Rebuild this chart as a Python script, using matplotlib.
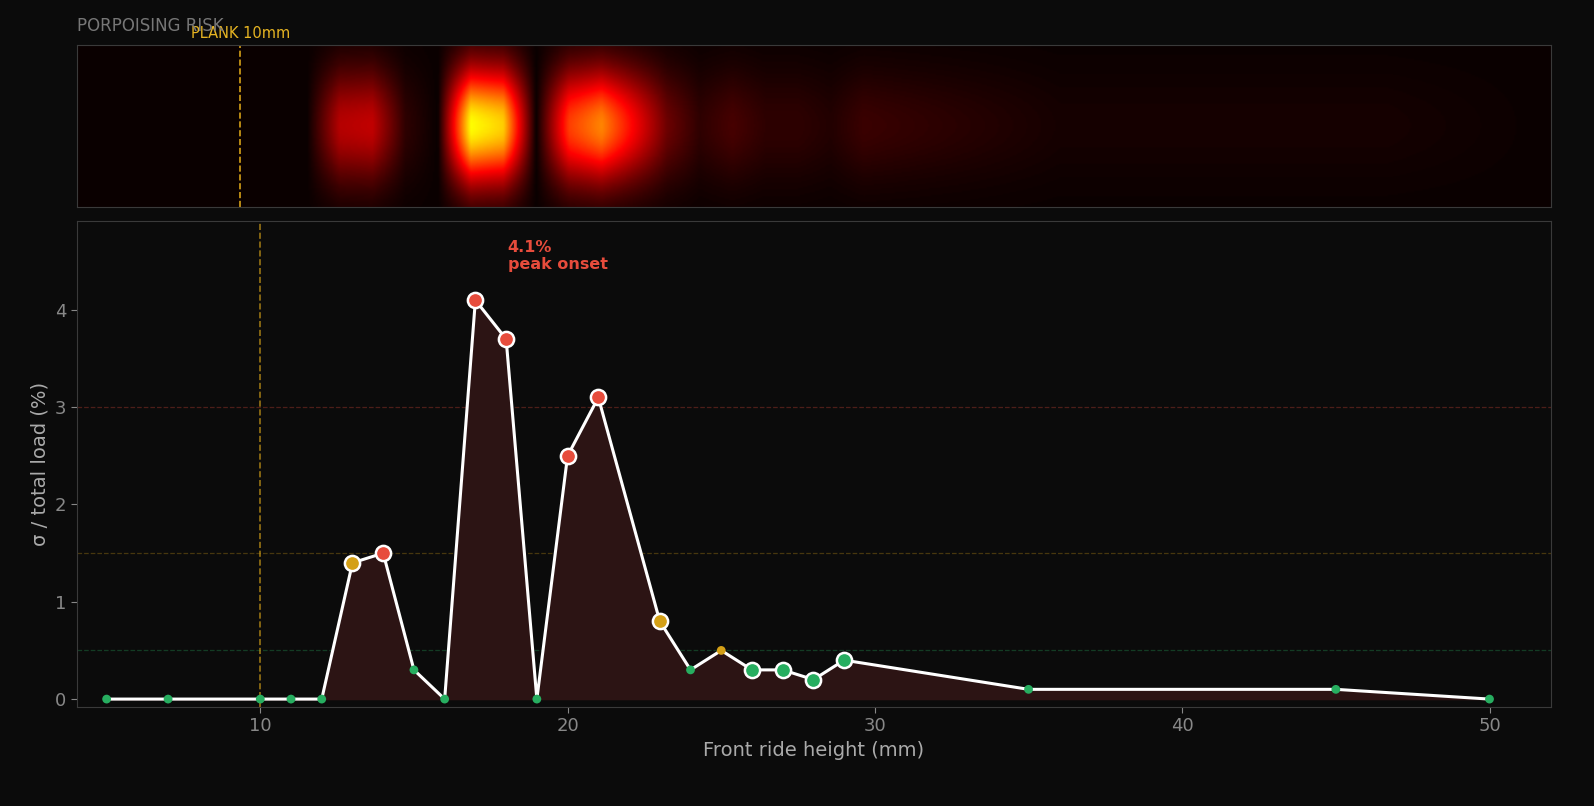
import numpy as np
import matplotlib
matplotlib.use("Agg")
import matplotlib.pyplot as plt

heights = [5, 7, 10, 11, 12, 13, 14, 15, 16, 17, 18, 19, 20, 21, 23, 24, 25, 26, 27, 28, 29, 35, 45, 50]
sigma = [0, 0, 0, 0, 0, 1.4, 1.5, 0.3, 0, 4.1, 3.7, 0, 2.5, 3.1, 0.8, 0.3, 0.5, 0.3, 0.3, 0.2, 0.4, 0.1, 0.1, 0]
big = [0, 0, 0, 0, 0, 1, 1, 0, 0, 1, 1, 0, 1, 1, 1, 0, 0, 1, 1, 1, 1, 0, 0, 0]
plank = 10

BG = "#0b0b0b"
def col(v):
    if v >= 1.5: return "#e74c3c"
    if v >= 0.5: return "#d4a017"
    return "#27ae60"

fig = plt.figure(figsize=(15.94, 8.06), dpi=100, facecolor=BG)
axh = fig.add_axes([0.048, 0.743, 0.925, 0.201])
ax = fig.add_axes([0.048, 0.123, 0.925, 0.603])
for a in (axh, ax):
    a.set_facecolor(BG)
    for s in a.spines.values():
        s.set_color("#3a3a3a")

# heat strip
xs = np.linspace(5, 50, 900)
vals = np.interp(xs, heights, sigma)
ys = np.linspace(-1, 1, 120)
prof = np.exp(-(ys / 0.7) ** 2)
grid = prof[:, None] * vals[None, :]
axh.imshow(grid, cmap="hot", aspect="auto", extent=[5, 50, -1, 1], vmin=0, vmax=5.5, interpolation="bilinear")
axh.set_xlim(5, 50)
axh.set_xticks([]); axh.set_yticks([])
axh.axvline(plank, color="#d4a017", ls="--", lw=1.2)
axh.text(plank, 1.05, "PLANK 10mm", color="#e6b422", fontsize=10.5, ha="center", va="bottom")
fig.text(0.048, 0.957, "PORPOISING RISK", color="#777777", fontsize=12, ha="left", va="bottom")

# main
ax.fill_between(heights, sigma, 0, color="#2c1414", zorder=1)
ax.plot(heights, sigma, color="white", lw=2.2, zorder=3)
for h, v, b in zip(heights, sigma, big):
    if b:
        ax.scatter(h, v, s=120, color=col(v), edgecolor="white", linewidth=1.8, zorder=4)
    else:
        ax.scatter(h, v, s=40, color=col(v), edgecolor="none", zorder=4)
for y, c in [(3, "#e74c3c"), (1.5, "#d4a017"), (0.5, "#27ae60")]:
    ax.axhline(y, color=c, ls="--", lw=0.9, alpha=0.3, zorder=0)
ax.axvline(plank, color="#d4a017", ls="--", lw=1.2, alpha=0.7)
ax.text(18.05, 4.72, "4.1%\npeak onset", color="#e74c3c", fontsize=11.5, fontweight="bold", va="top", ha="left")
ax.set_xlim(4.02, 52.0)
ax.set_ylim(-0.08, 4.915)
ax.set_yticks([0, 1, 2, 3, 4])
ax.tick_params(colors="#888888", labelsize=13, length=4)
ax.set_xlabel("Front ride height (mm)", color="#aaaaaa", fontsize=14)
ax.set_ylabel("σ / total load (%)", color="#aaaaaa", fontsize=14)

fig.savefig("out.png", dpi=100, facecolor=BG)
